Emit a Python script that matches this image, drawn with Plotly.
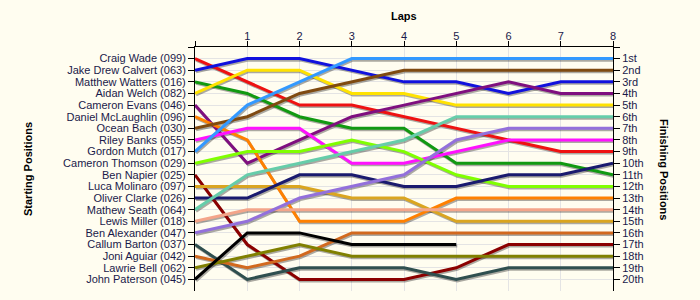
import plotly.graph_objects as go

laps = [0, 1, 2, 3, 4, 5, 6, 7, 8]
lap_labels = ["", "1", "2", "3", "4", "5", "6", "7", "8"]

drivers = [
    "Craig Wade (099)", "Jake Drew Calvert (063)", "Matthew Watters (016)",
    "Aidan Welch (082)", "Cameron Evans (046)", "Daniel McLaughlin (096)",
    "Ocean Bach (030)", "Riley Banks (055)", "Gordon Mutch (017)",
    "Cameron Thomson (029)", "Ben Napier (025)", "Luca Molinaro (097)",
    "Oliver Clarke (026)", "Mathew Seath (064)", "Lewis Miller (018)",
    "Ben Alexander (047)", "Callum Barton (037)", "Joni Aguiar (042)",
    "Lawrie Bell (062)", "John Paterson (045)",
]

pos_craig_wade = [1, 3, 5, 5, 6, 7, 8, 9, 9]
pos_jake_drew_calvert = [2, 1, 1, 2, 3, 3, 4, 3, 3]
pos_matthew_watters = [3, 4, 6, 7, 7, 10, 10, 10, 11]
pos_aidan_welch = [4, 2, 2, 4, 4, 5, 5, 5, 5]
pos_cameron_evans = [5, 10, 8, 6, 5, 4, 3, 4, 4]
pos_daniel_mclaughlin = [6, 8, 15, 15, 15, 13, 13, 13, 13]
pos_ocean_bach = [7, 6, 4, 3, 2, 2, 2, 2, 2]
pos_riley_banks = [8, 7, 7, 10, 10, 9, 8, 8, 8]
pos_gordon_mutch = [9, 5, 3, 1, 1, 1, 1, 1, 1]
pos_cameron_thomson = [10, 9, 9, 8, 9, 11, 12, 12, 12]
pos_ben_napier = [11, 17, 20, 20, 20, 19, 17, 17, 17]
pos_luca_molinaro = [12, 12, 12, 13, 13, 15, 15, 15, 15]
pos_oliver_clarke = [13, 13, 11, 11, 12, 12, 11, 11, 10]
pos_mathew_seath = [14, 11, 10, 9, 8, 6, 6, 6, 6]
pos_lewis_miller = [15, 14, 14, 14, 14, 14, 14, 14, 14]
pos_ben_alexander = [16, 15, 13, 12, 11, 8, 7, 7, 7]
pos_callum_barton = [17, 20, 19, 19, 19, 20, 19, 19, 19]
pos_joni_aguiar = [18, 19, 18, 16, 16, 16, 16, 16, 16]
pos_lawrie_bell = [19, 18, 17, 18, 18, 18, 18, 18, 18]
pos_john_paterson = [20, 16, 16, 17, 17, 17, None, None, None]

positions = [
    pos_craig_wade, pos_jake_drew_calvert, pos_matthew_watters, pos_aidan_welch,
    pos_cameron_evans, pos_daniel_mclaughlin, pos_ocean_bach, pos_riley_banks,
    pos_gordon_mutch, pos_cameron_thomson, pos_ben_napier, pos_luca_molinaro,
    pos_oliver_clarke, pos_mathew_seath, pos_lewis_miller, pos_ben_alexander,
    pos_callum_barton, pos_joni_aguiar, pos_lawrie_bell, pos_john_paterson,
]

colors = [
    "#EE1111", "#1111DD", "#119911", "#FFE200", "#7F0F7F",
    "#FF8000", "#7F4A10", "#FF11FF", "#3399FF", "#80FF00",
    "#8B0000", "#DAA520", "#1A1A6E", "#66CDAA", "#F4A58A",
    "#9370DB", "#2F4F4F", "#D2691E", "#808000", "#000000",
]

n = len(drivers)
finish_labels = []
for i in range(1, n + 1):
    if i % 10 == 1 and i != 11:
        s = "st"
    elif i % 10 == 2 and i != 12:
        s = "nd"
    elif i % 10 == 3 and i != 13:
        s = "rd"
    else:
        s = "th"
    finish_labels.append(f"{i}{s}")

BG = "#FFFDF0"
TXT = "#1a1a4a"

fig = go.Figure()

# shadows
for pos in positions:
    fig.add_trace(go.Scatter(
        x=[l + 0.02 for l in laps],
        y=[p + 0.13 if p is not None else None for p in pos],
        mode="lines", line=dict(color="rgba(0,0,0,0.33)", width=3),
        hoverinfo="skip", showlegend=False,
    ))

for name, pos, col in zip(drivers, positions, colors):
    fig.add_trace(go.Scatter(
        x=laps, y=pos, mode="lines", name=name,
        line=dict(color=col, width=3), showlegend=False,
    ))

# helper for the right axis
fig.add_trace(go.Scatter(
    x=[laps[-1]] * n, y=list(range(1, n + 1)), yaxis="y2",
    mode="markers", marker=dict(opacity=0), hoverinfo="skip", showlegend=False,
))

tick_font = dict(family="Liberation Sans, Arial, sans-serif", size=11, color=TXT)
title_font = dict(family="Liberation Sans, Arial, sans-serif", size=11, color="black")

fig.update_layout(
    width=700, height=300,
    margin=dict(l=195, r=87, t=47, b=9),
    paper_bgcolor=BG, plot_bgcolor=BG,
    xaxis=dict(
        range=[0, 8], side="top", tickmode="array",
        tickvals=laps, ticktext=lap_labels,
        ticks="outside", ticklen=5, tickcolor="black",
        ticklabelstandoff=-3,
        showline=True, linecolor="black", linewidth=1,
        showgrid=True, gridcolor="#E4E4E4", gridwidth=1,
        zeroline=False, tickfont=tick_font,
    ),
    yaxis=dict(
        range=[21, 0], tickmode="array",
        tickvals=list(range(0, n + 1)), ticktext=[""] + drivers,
        ticks="outside", ticklen=6, tickcolor="black",
        showline=True, linecolor="black", linewidth=1,
        showgrid=True, gridcolor="#E4E4E4", gridwidth=1,
        zeroline=False, tickfont=tick_font,
    ),
    yaxis2=dict(
        range=[21, 0], overlaying="y", side="right", tickmode="array",
        tickvals=list(range(0, n + 1)), ticktext=[""] + finish_labels,
        ticks="outside", ticklen=6, tickcolor="black",
        showline=True, linecolor="black", linewidth=1,
        showgrid=False, zeroline=False, tickfont=tick_font,
    ),
    annotations=[
        dict(text="<b>Laps</b>", xref="paper", yref="paper", x=0.5, y=1.127,
             xanchor="center", yanchor="middle", showarrow=False, font=title_font),
        dict(text="<b>Starting Positions</b>", xref="paper", yref="paper",
             x=(28 - 195) / 418, y=0.5, xanchor="center", yanchor="middle",
             textangle=-90, showarrow=False, font=title_font),
        dict(text="<b>Finishing Positions</b>", xref="paper", yref="paper",
             x=(664 - 195) / 418, y=0.5, xanchor="center", yanchor="middle",
             textangle=90, showarrow=False, font=title_font),
    ],
)

fig.write_html("out.html")
